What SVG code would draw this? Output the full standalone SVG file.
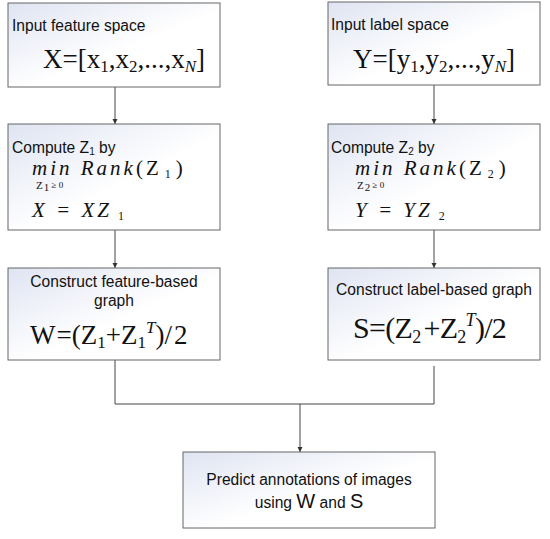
<svg xmlns="http://www.w3.org/2000/svg" width="550" height="539" viewBox="0 0 550 539">
<defs>
<linearGradient id="g" x1="0" y1="0" x2="1" y2="1">
<stop offset="0" stop-color="#dfe4f2"/>
<stop offset="0.55" stop-color="#ffffff"/>
<stop offset="1" stop-color="#ffffff"/>
</linearGradient>
<marker id="ah" markerWidth="6" markerHeight="6" refX="5" refY="3" orient="auto" markerUnits="userSpaceOnUse">
<path d="M0,0.5 L5,3 L0,5.5 Z" fill="#333"/>
</marker>
<style>
.box{fill:url(#g);stroke:#666;stroke-width:1}
.t{font-family:"Liberation Sans",Arial,sans-serif;font-size:15.6px;fill:#111}
.m{font-family:"Liberation Serif","Times New Roman",serif;fill:#111}
.i{font-family:"Liberation Serif","Times New Roman",serif;font-style:italic;fill:#111}
.c{fill:none;stroke:#444;stroke-width:1}
</style>
</defs>
<rect width="550" height="539" fill="#fff"/>
<g id="connectors">
<path class="c" d="M115,87 V124" marker-end="url(#ah)"/>
<path class="c" d="M434,85 V124" marker-end="url(#ah)"/>
<path class="c" d="M115,230 V268" marker-end="url(#ah)"/>
<path class="c" d="M434,230 V268" marker-end="url(#ah)"/>
<path class="c" d="M115,360 V404 H434 V366"/>
<path class="c" d="M300,404 V452" marker-end="url(#ah)"/>
</g>
<g id="input-feature">
<rect class="box" x="8" y="3" width="212" height="84"/>
<text class="t" x="12" y="31">Input feature space</text>
<text class="m" x="43" y="68" font-size="27">X=[x<tspan font-size="17" dy="4">1</tspan><tspan dy="-4">,x</tspan><tspan font-size="17" dy="4">2</tspan><tspan dy="-4">,...,x</tspan><tspan font-size="17" font-style="italic" dy="4">N</tspan><tspan dy="-4">]</tspan></text>
</g>
<g id="input-label">
<rect class="box" x="328" y="2" width="212" height="83"/>
<text class="t" x="331" y="30">Input label space</text>
<text class="m" x="353" y="68" font-size="27">Y=[y<tspan font-size="17" dy="4">1</tspan><tspan dy="-4">,y</tspan><tspan font-size="17" dy="4">2</tspan><tspan dy="-4">,...,y</tspan><tspan font-size="17" font-style="italic" dy="4">N</tspan><tspan dy="-4">]</tspan></text>
</g>
<g id="compute-z1">
<rect class="box" x="8" y="124" width="212" height="106"/>
<text class="t" x="12" y="153">Compute Z<tspan font-size="10" dy="2">1</tspan><tspan dy="-2"> by</tspan></text>
<text class="i" x="32" y="175" font-size="21" letter-spacing="3">min Rank<tspan font-style="normal">(Z</tspan><tspan font-style="normal" font-size="12" dx="3" dy="3">1</tspan><tspan font-style="normal" dx="2" dy="-3">)</tspan></text>
<text class="m" x="36" y="189" font-size="11">Z<tspan dx="1" dy="2">1</tspan><tspan dy="-3" font-size="9"> ≥ 0</tspan></text>
<text class="i" x="32" y="217" font-size="21" letter-spacing="3">X  =  XZ<tspan font-style="normal" font-size="12" dy="3"> 1</tspan></text>
</g>
<g id="compute-z2">
<rect class="box" x="328" y="124" width="212" height="106"/>
<text class="t" x="331" y="153">Compute Z<tspan font-size="10" dy="2">2</tspan><tspan dy="-2"> by</tspan></text>
<text class="i" x="355" y="175" font-size="21" letter-spacing="3">min Rank<tspan font-style="normal">(Z</tspan><tspan font-style="normal" font-size="12" dx="3" dy="3">2</tspan><tspan font-style="normal" dx="2" dy="-3">)</tspan></text>
<text class="m" x="357" y="189" font-size="11">Z<tspan dx="1" dy="2">2</tspan><tspan dy="-3" font-size="9"> ≥ 0</tspan></text>
<text class="i" x="355" y="217" font-size="21" letter-spacing="3">Y  =  YZ<tspan font-style="normal" font-size="12" dy="3"> 2</tspan></text>
</g>
<g id="feature-graph">
<rect class="box" x="8" y="268" width="212" height="92"/>
<text class="t" x="114" y="287" text-anchor="middle">Construct feature-based</text>
<text class="t" x="114" y="306" text-anchor="middle">graph</text>
<text class="m" x="30" y="344" font-size="27">W<tspan dx="1">=</tspan>(Z<tspan font-size="17" dy="4">1</tspan><tspan dy="-4">+Z</tspan><tspan font-size="17" dy="4">1</tspan><tspan font-size="17" font-style="italic" dy="-15">T</tspan><tspan dy="11">)/</tspan><tspan dx="2">2</tspan></text>
</g>
<g id="label-graph">
<rect class="box" x="328" y="268" width="212" height="92"/>
<text class="t" x="434" y="295" text-anchor="middle">Construct label-based graph</text>
<text class="m" x="353" y="338" font-size="30" letter-spacing="-0.7">S=(Z<tspan font-size="18" dy="5">2</tspan><tspan dx="3" dy="-5">+Z</tspan><tspan font-size="18" dy="5">2</tspan><tspan font-size="18" font-style="italic" dy="-17">T</tspan><tspan dy="12">)/2</tspan></text>
</g>
<g id="predict">
<rect class="box" x="183" y="452" width="252" height="76"/>
<text class="t" x="309" y="485" text-anchor="middle">Predict annotations of images</text>
<text class="t" x="309" y="508" text-anchor="middle">using <tspan font-size="20">W</tspan> and <tspan font-size="20">S</tspan></text>
</g>
</svg>
